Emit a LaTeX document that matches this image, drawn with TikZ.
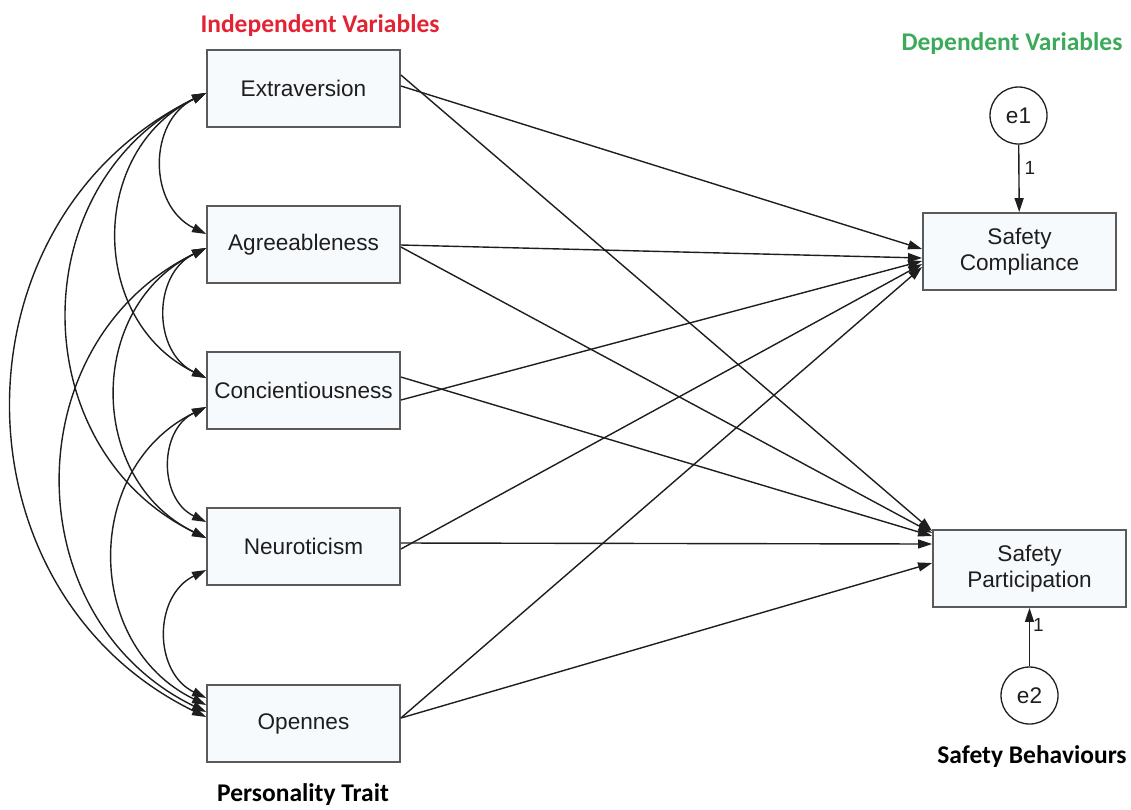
\documentclass[tikz,border=0pt]{standalone}
\usepackage{fontspec}
\usetikzlibrary{arrows.meta}
\newfontfamily\arialfont{Liberation Sans}
\newfontfamily\califont{Carlito}
\definecolor{indepred}{RGB}{226,35,52}
\definecolor{depgreen}{RGB}{60,170,90}
\definecolor{boxfill}{RGB}{247,250,253}
\definecolor{boxline}{RGB}{90,90,90}
\definecolor{inkgrey}{RGB}{30,30,30}
\def\boxtxt{\arialfont\fontsize{22.6}{25.5}\selectfont}
\def\headtxt{\califont\bfseries\fontsize{25.5}{30}\selectfont}
\def\onetxt{\arialfont\fontsize{19}{22}\selectfont}

\begin{document}
\begin{tikzpicture}[x=1pt,y=1pt,
  var/.style={rectangle,draw=boxline,line width=1.8pt,fill=boxfill,minimum width=193pt,minimum height=77pt,align=center,text=inkgrey,font=\boxtxt,inner sep=0pt},
  err/.style={circle,draw=inkgrey,line width=1.3pt,fill=white,minimum size=57pt,inner sep=0pt,text=inkgrey,font=\boxtxt},
  reg/.style={-{Triangle[length=14pt,width=9pt]},line width=1.4pt,draw=inkgrey},
  cov/.style={{Triangle[length=14pt,width=9pt]}-{Triangle[length=14pt,width=9pt]},line width=1.4pt,draw=inkgrey,bend right=64,looseness=1.18}]
\useasboundingbox (0,0) rectangle (1131,-809);
% personality trait boxes
       \node [var] at (303.5,-88.5) (ext) {Extraversion};
       \node [var] at (303.5,-244.5) (agr) {Agreeableness};
       \node [var] at (303.5,-390.5) (con) {Concientiousness};
       \node [var] at (303.5,-546.5) (neu) {Neuroticism};
       \node [var] at (303.5,-723.5) (ope) {Opennes};
% safety behaviour boxes
       \node [var] at (1019.5,-251.5) (sc) {Safety\\Compliance};
       \node [var] at (1029.5,-568.5) (sp) {Safety\\Participation};
       \node [err] at (1018.5,-115.5) (e1) {e1};
       \node [err] at (1029.5,-695.5) (e2) {e2};
% headings
       \node [text=indepred,font=\headtxt] at (320,-26) (indep) {Independent Variables};
       \node [text=depgreen,font=\headtxt] at (1012,-44) (dep) {Dependent Variables};
       \node [text=black,font=\headtxt] at (1032,-757) (behav) {Safety Behaviours};
       \node [text=black,font=\headtxt] at (303,-795) (trait) {Personality Trait};
%
%
\path ([yshift=2.5pt]ext.east) edge [reg] ([yshift=2.5pt]sc.west);
\path ([yshift=13.5pt]ext.east) edge [reg] ([yshift=37.5pt]sp.west);
\path ([yshift=-0.5pt]agr.east) edge [reg] ([yshift=-6.5pt]sc.west);
\path ([yshift=-2.5pt]agr.east) edge [reg] ([yshift=35.5pt]sp.west);
\path ([yshift=-9.5pt]con.east) edge [reg] ([yshift=-9.5pt]sc.west);
\path ([yshift=13.5pt]con.east) edge [reg] ([yshift=32.5pt]sp.west);
\path ([yshift=-2.5pt]neu.east) edge [reg] ([yshift=-12.5pt]sc.west);
\path ([yshift=3.5pt]neu.east) edge [reg] ([yshift=24.5pt]sp.west);
\path ([yshift=5.5pt]ope.east) edge [reg] ([yshift=-15.5pt]sc.west);
\path ([yshift=5.5pt]ope.east) edge [reg] ([yshift=5.5pt]sp.west);
\path (e1) edge [reg] node [pos=0.35,right,font=\onetxt,text=inkgrey,inner sep=5pt] {1} (sc);
\path (e2) edge [reg] node [pos=0.7,right,font=\onetxt,text=inkgrey,inner sep=3pt] {1} (sp);
%
\path ([yshift=-4.5pt]ext.west) edge [cov] ([yshift=10.5pt]agr.west);
\path ([yshift=-4.5pt]ext.west) edge [cov] ([yshift=12.5pt]con.west);
\path ([yshift=-4.5pt]ext.west) edge [cov] ([yshift=8.5pt]neu.west);
\path ([yshift=-4.5pt]ext.west) edge [cov] ([yshift=6.5pt]ope.west);
\path ([yshift=-3.5pt]agr.west) edge [cov] ([yshift=12.5pt]con.west);
\path ([yshift=-3.5pt]agr.west) edge [cov] ([yshift=8.5pt]neu.west);
\path ([yshift=-3.5pt]agr.west) edge [cov] ([yshift=11.5pt]ope.west);
\path ([yshift=-16.5pt]con.west) edge [cov] ([yshift=24.5pt]neu.west);
\path ([yshift=-16.5pt]con.west) edge [cov] ([yshift=18.5pt]ope.west);
\path ([yshift=-23.5pt]neu.west) edge [cov] ([yshift=25.5pt]ope.west);

\end{tikzpicture}
\end{document}
